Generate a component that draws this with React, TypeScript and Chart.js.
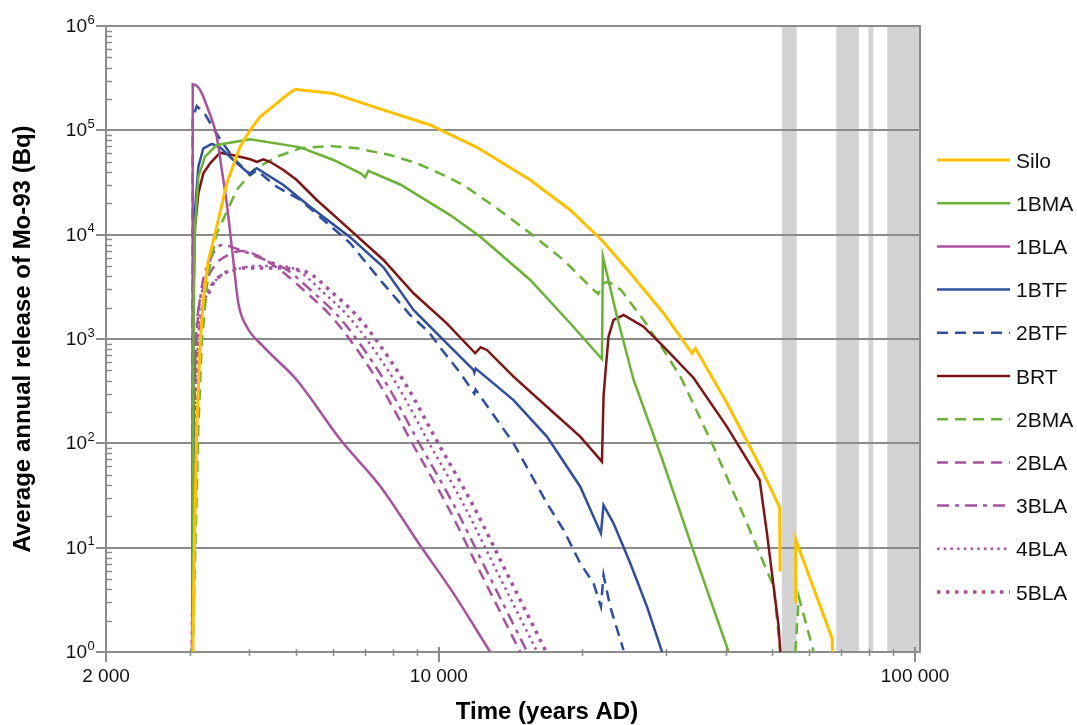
import React, { useEffect, useRef } from 'react';
import { Chart, registerables } from 'chart.js';

Chart.register(...registerables);

// ---------- DATA (years AD, annual release in Bq) ----------
const siloYears = [3042, 3062, 3102, 3152, 3202, 3276, 3416, 3586, 3824, 4017, 4212, 4567, 4794, 4990, 5998, 7638, 9588, 12016, 15558, 18870, 22140, 25226, 29600, 34015, 34560, 40280, 47320, 51940, 52050, 54000, 56050, 56150, 66940, 67050];
const siloValues = [1, 7.6, 143, 876, 2365, 5470, 11900, 31000, 69700, 100700, 135000, 181600, 218000, 247000, 226000, 157000, 112500, 68800, 33400, 17250, 8570, 4295, 1775, 730, 815, 242, 59.7, 24.3, 5.9, null, 3.0, 11.9, 1.35, 1];

const bma1Years = [3042, 3054, 3076, 3126, 3229, 3416, 4017, 5119, 6006, 6848, 7002, 7114, 8313, 10561, 12237, 15558, 18870, 22000, 22100, 23660, 25640, 29283, 34040, 40600];
const bma1Values = [1, 1520, 11900, 36000, 55900, 72400, 82000, 68700, 52000, 38700, 35500, 40800, 30100, 15400, 9500, 3680, 1415, 643, 6150, 1640, 405, 75.6, 10, 1];

const bla1Years = [3037, 3042, 3152, 3280, 3416, 3501, 3586, 3674, 3793, 3951, 4282, 5030, 6215, 7545, 9159, 10730, 12816];
const bla1Values = [1, 276000, 243700, 156700, 86900, 41800, 20000, 7670, 2200, 1312, 844, 405, 108, 38.4, 10.3, 3.65, 1];

const btf1Years = [3042, 3050, 3076, 3126, 3202, 3336, 3473, 3702, 3951, 4017, 4147, 4716, 5366, 6510, 7650, 8845, 10390, 11820, 11870, 11950, 14346, 16860, 19810, 21893, 22170, 23270, 25230, 27350, 29420];
const btf1Values = [1, 5720, 17250, 44900, 67300, 74000, 68800, 52000, 40200, 38700, 43300, 29900, 18550, 9460, 4870, 1897, 910, 505, 475, 520, 260, 116, 38.4, 13.7, 25.6, 17.1, 7.08, 2.72, 1];

const btf2Years = [3040, 3042, 3102, 3229, 3360, 3501, 3702, 3951, 4017, 4147, 4567, 5119, 6510, 7529, 8704, 9508, 10224, 11106, 11870, 11940, 13027, 14346, 15558, 16860, 18270, 19810, 21130, 21893, 22170, 22900, 24420];
const btf2Values = [1, 130400, 171000, 142200, 104700, 77800, 54300, 40200, 37300, 41200, 28800, 21500, 8320, 3680, 1698, 1175, 755, 469, 300, 328, 187, 100, 51.6, 26.6, 14.8, 7.08, 4.55, 2.72, 5.47, 2.72, 1.04];

const brtYears = [3042, 3050, 3076, 3126, 3202, 3308, 3473, 3764, 4017, 4147, 4282, 4426, 4716, 5030, 5542, 6510, 7650, 8845, 10390, 11920, 12237, 12614, 14346, 16860, 19810, 22000, 22170, 22340, 22710, 23270, 24420, 26900, 29640, 34270, 40280, 47160, 48860, 50460, 51700, 52120];
const brtValues = [1, 2365, 11900, 24900, 38700, 48300, 61000, 56800, 52800, 49700, 52600, 49700, 41700, 33400, 21500, 11100, 5720, 2742, 1415, 730, 833, 785, 435, 224, 116, 66.7, 280, 435, 1052, 1521, 1698, 1312, 844, 423, 144, 44.5, 13.7, 4.23, 1.75, 1];

const bma2Years = [3042, 3076, 3126, 3178, 3255, 3308, 3416, 3764, 4078, 4567, 5119, 5910, 6726, 7902, 8990, 10224, 11262, 13238, 15558, 18270, 20780, 21600, 22140, 22500, 22900, 24122, 26900, 29640, 32265, 37740, 44360, 50460, 52120, 54000, 56050, 56970, 61240];
const bma2Values = [1, 7.6, 143, 915, 3150, 5120, 10300, 26800, 41700, 55900, 67300, 70800, 67300, 58000, 48300, 37300, 29900, 17900, 10300, 5720, 3170, 2700, 3400, 3520, 3465, 2950, 1521, 785, 423, 92.9, 17.1, 4.23, 1, null, 1, 3.39, 1];

const bla2Years = [3032, 3054, 3106, 3229, 3389, 3609, 3861, 4172, 4640, 5281, 5910, 6511, 7529, 8831, 10395, 12211, 13451, 14819];
const bla2Values = [1, 86.3, 1220, 3296, 5120, 6384, 6980, 6250, 4585, 2759, 1698, 978, 362, 96.4, 25.6, 5.85, 2.42, 1];

const bla3Years = [3032, 3047, 3076, 3152, 3308, 3506, 3824, 4212, 4800, 5463, 6115, 6736, 7788, 9135, 10753, 12631, 13914, 15328];
const bla3Values = [1, 28.6, 505, 2370, 5715, 7965, 7130, 5983, 4585, 2759, 1698, 978, 362, 96.4, 25.6, 5.85, 2.42, 1];

const bla4Years = [3032, 3062, 3122, 3229, 3439, 3733, 4112, 4529, 5038, 5733, 6418, 7069, 8173, 9588, 11286, 13257, 14605, 16087];
const bla4Values = [1, 86.3, 978, 2370, 3845, 4585, 5010, 5010, 4585, 2759, 1698, 978, 362, 96.4, 25.6, 5.85, 2.42, 1];

const bla5Years = [3032, 3076, 3152, 3308, 3557, 3918, 4426, 5263, 5989, 6703, 7384, 8537, 10015, 11788, 13847, 15254, 16803];
const bla5Values = [1, 167, 1220, 2950, 4293, 4797, 4797, 4388, 2759, 1698, 978, 362, 96.4, 25.6, 5.85, 2.42, 1];

// axis / annotation values
const xMajorTicks = [2000, 10000, 100000];
const xTickLabels = ['2 000', '10 000', '100 000'];
const xMinorTicks = [3000, 4000, 5000, 6000, 7000, 8000, 9000, 20000, 30000, 40000, 50000, 60000, 70000, 80000, 90000];
const yDecades = [0, 1, 2, 3, 4, 5, 6];
const glacialStarts = [52500, 68300, 79800, 87400];
const glacialEnds = [56400, 76200, 81700, 102400];

const xTitle = 'Time (years AD)';
const yTitle = 'Average annual release of Mo-93 (Bq)';

// ---------- STYLES ----------
const YELLOW = '#FFC000';
const GREEN = '#6BB235';
const MAGENTA = '#A8529F';
const BLUE = '#2F4E9F';
const DARKRED = '#7E1517';
const GRID = '#8C8C8C';
const BAND = '#D3D3D3';
const FONT = '"Liberation Sans", Arial, Helvetica, sans-serif';

const seriesDefs = [
  { label: 'Silo', years: siloYears, values: siloValues, color: YELLOW, dash: [] as number[], width: 3, smooth: false },
  { label: '1BMA', years: bma1Years, values: bma1Values, color: GREEN, dash: [], width: 2.5, smooth: false },
  { label: '1BLA', years: bla1Years, values: bla1Values, color: MAGENTA, dash: [], width: 2.5, smooth: true },
  { label: '1BTF', years: btf1Years, values: btf1Values, color: BLUE, dash: [], width: 2.5, smooth: false },
  { label: '2BTF', years: btf2Years, values: btf2Values, color: BLUE, dash: [11, 7], width: 2.5, smooth: false },
  { label: 'BRT', years: brtYears, values: brtValues, color: DARKRED, dash: [], width: 2.5, smooth: false },
  { label: '2BMA', years: bma2Years, values: bma2Values, color: GREEN, dash: [11, 7], width: 2.5, smooth: false },
  { label: '2BLA', years: bla2Years, values: bla2Values, color: MAGENTA, dash: [11, 7], width: 2.5, smooth: true },
  { label: '3BLA', years: bla3Years, values: bla3Values, color: MAGENTA, dash: [12, 6, 4, 6], width: 2.5, smooth: true },
  { label: '4BLA', years: bla4Years, values: bla4Values, color: MAGENTA, dash: [2.5, 4.2], width: 2.5, smooth: true },
  { label: '5BLA', years: bla5Years, values: bla5Values, color: MAGENTA, dash: [3.5, 5.5], width: 3.5, smooth: true },
];

const decorPlugin = {
  id: 'decor',
  beforeDraw(chart: any) {
    const { ctx, chartArea: a } = chart;
    const xs = chart.scales.x;
    const ys = chart.scales.y;
    ctx.save();
    ctx.fillStyle = '#ffffff';
    ctx.fillRect(0, 0, chart.width, chart.height);
    // glacial bands
    ctx.fillStyle = BAND;
    glacialStarts.forEach((s, i) => {
      const x1 = xs.getPixelForValue(s);
      const x2 = Math.min(xs.getPixelForValue(glacialEnds[i]), a.right);
      ctx.fillRect(x1, a.top, x2 - x1, a.bottom - a.top);
    });
    // horizontal grid lines (decades)
    ctx.strokeStyle = GRID;
    ctx.lineWidth = 2;
    yDecades.forEach((d) => {
      const py = Math.round(ys.getPixelForValue(Math.pow(10, d)));
      ctx.beginPath();
      ctx.moveTo(a.left - 10, py);
      ctx.lineTo(a.right + 1, py);
      ctx.stroke();
    });
    // left axis and right border
    ctx.beginPath();
    ctx.moveTo(a.left, a.top);
    ctx.lineTo(a.left, a.bottom);
    ctx.moveTo(a.right, a.top);
    ctx.lineTo(a.right, a.bottom);
    ctx.stroke();
    ctx.restore();
  },
  afterDraw(chart: any) {
    const { ctx, chartArea: a } = chart;
    const xs = chart.scales.x;
    const ys = chart.scales.y;
    ctx.save();
    ctx.strokeStyle = GRID;
    // y minor ticks (inside)
    ctx.lineWidth = 1.5;
    for (let d = 0; d < 6; d++) {
      for (let m = 2; m <= 9; m++) {
        const py = Math.round(ys.getPixelForValue(m * Math.pow(10, d))) + 0.5;
        ctx.beginPath();
        ctx.moveTo(a.left, py);
        ctx.lineTo(a.left + 6, py);
        ctx.stroke();
      }
    }
    // x ticks
    xMinorTicks.forEach((v) => {
      const px = Math.round(xs.getPixelForValue(v)) + 0.5;
      ctx.beginPath();
      ctx.moveTo(px, a.bottom - 3);
      ctx.lineTo(px, a.bottom + 4);
      ctx.stroke();
    });
    ctx.lineWidth = 2;
    xMajorTicks.forEach((v) => {
      const px = Math.round(xs.getPixelForValue(v));
      ctx.beginPath();
      ctx.moveTo(px, a.bottom - 5);
      ctx.lineTo(px, a.bottom + 10);
      ctx.stroke();
    });
    // y labels 10^n
    ctx.fillStyle = '#111111';
    yDecades.forEach((d) => {
      const py = ys.getPixelForValue(Math.pow(10, d));
      ctx.font = `19px ${FONT}`;
      ctx.textAlign = 'right';
      ctx.textBaseline = 'alphabetic';
      ctx.fillText('10', 87, py + 6);
      ctx.font = `13px ${FONT}`;
      ctx.textAlign = 'left';
      ctx.fillText(String(d), 87.5, py - 2.5);
    });
    // x labels
    ctx.font = `19px ${FONT}`;
    ctx.textAlign = 'center';
    xMajorTicks.forEach((v, i) => {
      ctx.fillText(xTickLabels[i], xs.getPixelForValue(v), 682);
    });
    // axis titles
    ctx.font = `bold 24px ${FONT}`;
    ctx.fillStyle = '#000000';
    ctx.fillText(xTitle, 547, 719);
    ctx.save();
    ctx.translate(30, (a.top + a.bottom) / 2);
    ctx.rotate(-Math.PI / 2);
    ctx.textAlign = 'center';
    ctx.fillText(yTitle, 0, 0);
    ctx.restore();
    // legend
    chart.data.datasets.forEach((ds: any, i: number) => {
      const ly = 160 + i * 43.2;
      ctx.save();
      ctx.strokeStyle = ds.borderColor;
      ctx.lineWidth = ds.borderWidth;
      ctx.setLineDash(ds.borderDash || []);
      ctx.beginPath();
      ctx.moveTo(937, ly);
      ctx.lineTo(1010, ly);
      ctx.stroke();
      ctx.restore();
      ctx.font = `21px ${FONT}`;
      ctx.fillStyle = '#111111';
      ctx.textAlign = 'left';
      ctx.fillText(ds.label, 1016, ly + 7.5);
    });
    ctx.restore();
  },
};

export default function App() {
  const ref = useRef<HTMLCanvasElement>(null);
  useEffect(() => {
    document.body.style.margin = '0';
    document.body.style.overflow = 'hidden';
    const datasets = seriesDefs.map((s) => ({
      label: s.label,
      data: s.years.map((yr, i) => ({ x: yr, y: s.values[i] })),
      borderColor: s.color,
      backgroundColor: s.color,
      borderWidth: s.width,
      borderDash: s.dash,
      pointRadius: 0,
      tension: 0,
      cubicInterpolationMode: s.smooth ? 'monotone' : 'default',
      fill: false,
      spanGaps: false,
    }));
    const chart = new Chart(ref.current as HTMLCanvasElement, {
      type: 'line',
      data: { datasets } as any,
      options: {
        responsive: false,
        animation: false,
        devicePixelRatio: 1,
        layout: { padding: { left: 106, right: 157, top: 26, bottom: 73 } },
        scales: {
          x: { type: 'logarithmic', min: 2000, max: 102400, display: false },
          y: { type: 'logarithmic', min: 1, max: 1000000, display: false },
        },
        plugins: { legend: { display: false }, tooltip: { enabled: false } },
        elements: { point: { radius: 0 } },
      } as any,
      plugins: [decorPlugin],
    });
    return () => chart.destroy();
  }, []);
  return (
    <div style={{ width: 1077, height: 725 }}>
      <canvas ref={ref} width={1077} height={725} style={{ display: 'block' }} />
    </div>
  );
}
